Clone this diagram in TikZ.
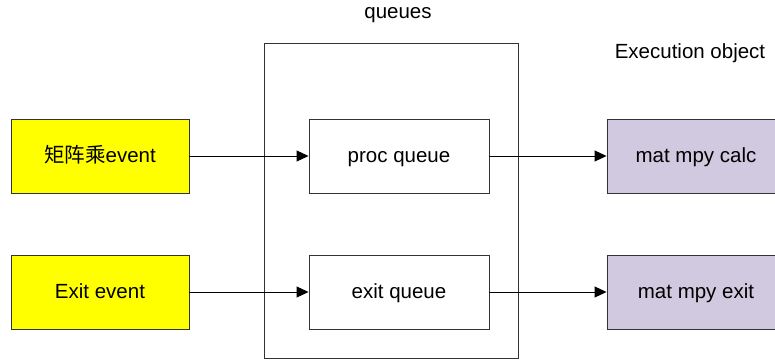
\documentclass[tikz,border=0pt]{standalone}
\usepackage{fontspec}
\setmainfont{Liberation Sans}
\newfontfamily\cjkfont{Noto Sans CJK SC}
\usepackage{xcolor}
\usepackage{tikz}
\usetikzlibrary{positioning,arrows.meta}

\definecolor{evyellow}{HTML}{FFFF00}
\definecolor{execlilac}{HTML}{D1C9E0}
\definecolor{boxline}{HTML}{333333}

\begin{document}
\begin{tikzpicture}[x=1pt, y=-1pt,
    every node/.style={font=\fontsize{20.5}{24}\selectfont},
    blk/.style={draw=boxline, line width=0.9pt, minimum width=178pt, minimum height=74pt,
        inner sep=0pt, text height=16pt, text depth=4pt},
    event/.style={blk, fill=evyellow},
    queue/.style={blk, minimum width=180pt},
    exec/.style={blk, fill=execlilac},
    link/.style={-{Triangle[length=12pt,width=11pt]}, line width=0.9pt}]
    \useasboundingbox (0,0) rectangle (775,362);

    % Queue container
    \node[draw=boxline, line width=0.9pt, minimum width=254pt, minimum height=315pt] (cont) at (391,200.5) {};
    \node (qtitle) at (398,15) {queues};
    \node (extitle) at (690,53) {Execution object};

    % Events
    \node[event] (evmat) at (100,156) {{\cjkfont 矩阵乘}event};
    \node[event] (evexit) at (100,292) {Exit event};

    % Queues
    \node[queue] (qproc) at (399,156) {proc queue};
    \node[queue] (qexit) at (399,292) {exit queue};

    % Execution objects
    \node[exec] (xcalc) at (696,156) {mat mpy calc};
    \node[exec] (xexit) at (696,292) {mat mpy exit};

    % Links
    \draw[link] (evmat) -- (qproc);
    \draw[link] (evexit) -- (qexit);
    \draw[link] (qproc) -- (xcalc);
    \draw[link] (qexit) -- (xexit);
\end{tikzpicture}
\end{document}
